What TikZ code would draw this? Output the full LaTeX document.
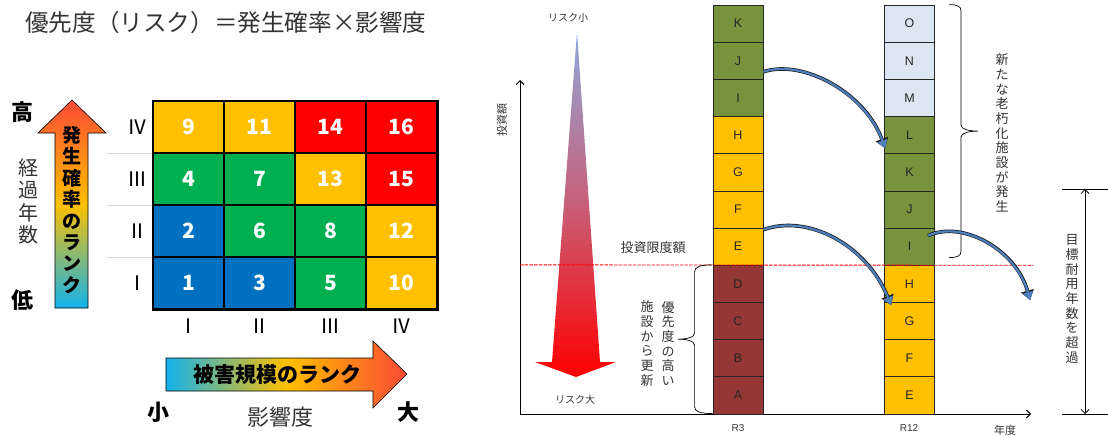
\documentclass[tikz,border=0pt]{standalone}
\usepackage{fontspec}
\setmainfont{Noto Sans CJK JP}
\newfontfamily\latinfont{Liberation Sans}
\usetikzlibrary{arrows.meta}

\definecolor{mBlue}{HTML}{0070C0}
\definecolor{mGreen}{HTML}{00B050}
\definecolor{mYellow}{HTML}{FFC000}
\definecolor{mRed}{HTML}{FF0000}
\definecolor{barRed}{HTML}{953735}
\definecolor{barGreen}{HTML}{77933C}
\definecolor{barYellow}{HTML}{FFC000}
\definecolor{barBlue}{HTML}{DCE6F2}
\definecolor{arrowBlue}{HTML}{4F81BD}
\definecolor{rankCyan}{HTML}{12B2EC}
\definecolor{rankYellow}{HTML}{FFC000}
\definecolor{rankRed}{HTML}{FA4A34}
\definecolor{riskTop}{HTML}{8EA9DB}
\definecolor{riskMid}{HTML}{C85F78}
\definecolor{textGray}{HTML}{333333}

\tikzset{
  riskcell/.style={draw=black, line width=1.2pt, fill=#1, minimum width=71pt, minimum height=52pt,
    inner sep=0pt, text=white, font=\fontsize{21}{21}\selectfont\bfseries},
  rank/.style={inner sep=0pt, font=\fontsize{20}{20}\selectfont},
  bigword/.style={inner sep=0pt, font=\fontsize{22}{22}\selectfont\bfseries},
  tategaki/.style={inner sep=0pt, align=center, font=\fontsize{13}{14.7}\selectfont, text=textGray},
  barcell/.style={draw=black!85, line width=0.8pt, fill=#1, minimum width=50pt, minimum height=37.18pt,
    inner sep=0pt, text=black!85, font=\latinfont\fontsize{12.5}{12.5}\selectfont},
  smalltext/.style={inner sep=0pt, text=textGray, font=\fontsize{11}{11}\selectfont},
  yeartext/.style={inner sep=0pt, text=textGray, font=\latinfont\fontsize{10}{10}\selectfont},
  gridgray/.style={draw=black!15, line width=1pt},
  bendArrow/.style={draw=arrowBlue, line width=2.2pt, -{Triangle[length=8pt,width=10.5pt,line width=0.1pt]},
    preaction={draw=black!90, line width=3.6pt, -{Triangle[length=9.5pt,width=13pt,line width=0.1pt]}}}
}

\begin{document}
\begin{tikzpicture}[x=1pt, y=-1pt]
\useasboundingbox (0,0) rectangle (1108,436);

% title
\node[inner sep=0pt, text=textGray, font=\fontsize{23.6}{23.6}\selectfont] (title) at (226,23) {優先度（リスク）＝発生確率×影響度};

% risk matrix
\foreach \y in {153,205,257}
  \draw[gridgray] (107,\y) -- (153,\y);
\foreach \i/\j/\n/\col in {0/0/1/mBlue, 1/0/3/mBlue, 2/0/5/mGreen, 3/0/10/mYellow,
                          0/1/2/mBlue, 1/1/6/mGreen, 2/1/8/mGreen, 3/1/12/mYellow,
                          0/2/4/mGreen, 1/2/7/mGreen, 2/2/13/mYellow, 3/2/15/mRed,
                          0/3/9/mYellow, 1/3/11/mYellow, 2/3/14/mRed, 3/3/16/mRed}
  \node[riskcell=\col] (cell\n) at (188.5+71*\i,283-52*\j) {\n};
\draw[line width=1.8pt] (cell9.north west) rectangle (cell10.south east);

\foreach \r [count=\j from 0] in {Ⅰ,Ⅱ,Ⅲ,Ⅳ}
  \node[rank] (row\j) at (137,283-52*\j) {\r};
\foreach \r [count=\i from 0] in {Ⅰ,Ⅱ,Ⅲ,Ⅳ}
  \node[rank] (col\i) at (188.5+71*\i,326) {\r};

% probability arrow
\draw[top color=rankRed, bottom color=rankCyan, middle color=rankYellow, draw=black, line width=0.6pt]
  (72,100) -- (106,133) -- (88,133) -- (88,308) -- (55,308) -- (55,133) -- (38,133) -- cycle;
\node[inner sep=0pt, align=center, font=\fontsize{19}{21.4}\selectfont\bfseries] (probRank) at (72,210) {発\\生\\確\\率\\の\\ラ\\ン\\ク};
\node[bigword] (high) at (23,112) {高};
\node[bigword] (low) at (23,300) {低};
\node[inner sep=0pt, align=center, text=textGray, font=\fontsize{20}{22.3}\selectfont] (elapsed) at (29,201.5) {経\\過\\年\\数};

% damage arrow
\draw[left color=rankCyan, right color=rankRed, middle color=rankYellow, draw=black, line width=0.6pt]
  (166,358) -- (373,358) -- (373,341) -- (407,374) -- (373,408) -- (373,391) -- (166,391) -- cycle;
\node[inner sep=0pt, font=\fontsize{21}{21}\selectfont\bfseries] (damageRank) at (277,375) {被害規模のランク};
\node[bigword] (small) at (158,412) {小};
\node[bigword] (large) at (408,412) {大};
\node[inner sep=0pt, text=textGray, font=\fontsize{22}{22}\selectfont] (impact) at (280,417) {影響度};

% investment chart
\coordinate (origin) at (520,414);
\coordinate (yTop) at (520,80);
\coordinate (xEnd) at (1031,414);
\draw[line width=0.9pt, -{Straight Barb[length=4pt,width=8pt]}] (origin) -- (yTop);
\draw[line width=0.9pt, -{Straight Barb[length=4pt,width=8pt]}] (origin) -- (xEnd);
\node[smalltext, rotate=90] (invest) at (502,120) {投資額};

\path[top color=riskTop, bottom color=mRed, middle color=riskMid]
  (577,32) -- (600,362) -- (616,362) -- (576,377) -- (535,362) -- (552,362) -- cycle;
\node[smalltext, font=\fontsize{10}{10}\selectfont] (riskLow) at (568,18) {リスク小};
\node[smalltext, font=\fontsize{10}{10}\selectfont] (riskHigh) at (575,400) {リスク大};

% facilities at R3
\foreach \lab/\col [count=\k from 0] in {K/barGreen,J/barGreen,I/barGreen,H/barYellow,G/barYellow,F/barYellow,
                                        E/barYellow,D/barRed,C/barRed,B/barRed,A/barRed}
  \node[barcell=\col] (r3\lab) at (738,23.6+37.18*\k) {\lab};

% facilities at R12
\foreach \lab/\col [count=\k from 0] in {O/barBlue,N/barBlue,M/barBlue,L/barGreen,K/barGreen,J/barGreen,
                                        I/barGreen,H/barYellow,G/barYellow,F/barYellow,E/barYellow}
  \node[barcell=\col] (r12\lab) at (909.5,23.6+37.18*\k) {\lab};

% budget limit
\coordinate (limitEnd) at (1033,265.3);
\draw[mRed, line width=0.9pt, dash pattern=on 3.5pt off 1.2pt] (origin |- r3D.north) -- (limitEnd);
\node[smalltext, font=\fontsize{13}{13}\selectfont] (limitLabel) at (653,248) {投資限度額};

\node[yeartext] (yearR3) at (738,428) {R3};
\node[yeartext] (yearR12) at (909,428) {R12};
\node[smalltext] (yearLabel) at (1005,430) {年度};

% braces
\draw[line width=0.7pt] (r3D.north west) .. controls +(-13,0) and +(0,-5) .. ++(-18,7) -- ++(0,61)
  .. controls +(0,5) and +(8,0) .. ++(-17,6.3) .. controls +(8,0) and +(0,-5) .. ++(17,6.3)
  -- ++(0,61.1) .. controls +(0,5) and +(-13,0) .. ++(18,7);
\node[tategaki] (priority) at (668,343.5) {優\\先\\度\\の\\高\\い};
\node[tategaki] (renewFirst) at (647,343.5) {施\\設\\か\\ら\\更\\新};

\draw[line width=0.7pt] ([xshift=14pt]r12O.north east) .. controls +(9,0) and +(0,-4) .. ++(12,6) -- ++(0,114.5)
  .. controls +(0,4) and +(-9,0) .. ++(17,6) .. controls +(-9,0) and +(0,-4) .. ++(-17,6)
  -- ++(0,114.5) .. controls +(0,4) and +(9,0) .. ++(-12,6);
\node[tategaki] (newAging) at (1002,133) {新\\た\\な\\老\\朽\\化\\施\\設\\が\\発\\生};

% target service life
\coordinate (lifeTop) at (1085,189);
\coordinate (lifeBot) at (1085,414);
\draw[line width=0.7pt] (1062,189) -- (1108,189);
\draw[line width=0.7pt] (1062,414) -- (1108,414);
\draw[line width=0.8pt, {Straight Barb[length=4pt,width=8pt]}-{Straight Barb[length=4pt,width=8pt]}] (lifeTop) -- (lifeBot);
\node[tategaki] (overLifeText) at (1072,299) {目\\標\\耐\\用\\年\\数\\を\\超\\過};

% moves
\coordinate (overLife) at (1030,300);
\draw[bendArrow] ([yshift=8pt]r3J.south east) .. controls +(40,-13) and +(-20,-55) .. ([xshift=1pt,yshift=6pt]r12L.south west);
\draw[bendArrow] ([yshift=-2pt]r3E.north east) .. controls +(45,-16) and +(-25,-60) .. ([xshift=7pt,yshift=-3pt]r12G.north west);
\draw[bendArrow] ([xshift=-7pt,yshift=-8pt]r12I.north east) .. controls +(35,-16) and +(-14,-50) .. (overLife);

\end{tikzpicture}
\end{document}
